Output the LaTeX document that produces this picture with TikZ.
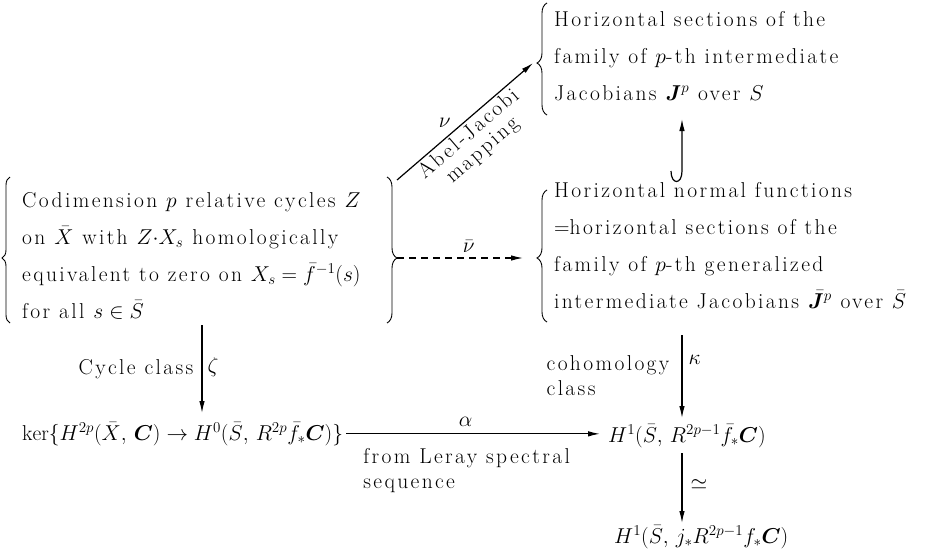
\RequirePackage{fix-cm}
\documentclass[tikz,border=0pt]{standalone}
\usepackage{amsmath}
\usepackage{bm}
\usepackage{fontspec}
\setmainfont{Latin Modern Roman}[LetterSpace=11]
\usetikzlibrary{arrows.meta,decorations.pathreplacing}
\tikzset{
  txt/.style={align=left, anchor=base west, inner sep=0pt},
  brc/.style 2 args={decorate, line width=0.9pt, decoration={brace, amplitude=#1, aspect=#2}},
  arr/.style={line width=1.2pt, -{Latex[length=12pt,width=5.5pt]}},
  lbl/.style={inner sep=0pt, font=\fontsize{21.5}{25}\selectfont}
}
\begin{document}
\begin{tikzpicture}[x=1pt,y=-1pt, font=\fontsize{21.5}{37}\selectfont]
\useasboundingbox (0,0) rectangle (926,557);
% text blocks (base anchor = baseline of last line)
\node[txt] (L) at (22,318) {Codimension $p$ relative cycles $Z$\\
  on $\bar X$ with $Z{\cdot}X_s$ homologically\\
  equivalent to zero on $X_s=\bar f^{-1}(s)$\\
  for all $s\in\bar S$};
\node[txt] (T) at (554,100) {Horizontal sections of the\\
  family of $p$-th intermediate\\
  Jacobians $\bm{J}^{p}$ over $S$};
\node[txt] (M) at (554,308) {Horizontal normal functions\\
  $=$horizontal sections of the\\
  family of $p$-th generalized\\
  intermediate Jacobians $\bar{\bm{J}}^{p}$ over $\bar S$};
\node[txt] (K) at (22,440) {$\ker\{H^{2p}(\bar X,\,\bm{C})\to H^{0}(\bar S,\,R^{2p}\bar f_{*}\bm{C})\}$};
\node[txt] (H1) at (608,442) {$H^{1}(\bar S,\,R^{2p-1}\bar f_{*}\bm{C})$};
\node[txt] (H2) at (614,543) {$H^{1}(\bar S,\,j_{*}R^{2p-1}f_{*}\bm{C})$};
% braces
\coordinate (LLa) at (10,323); \coordinate (LLb) at (10,177);
\coordinate (LRa) at (387,177); \coordinate (LRb) at (387,323);
\coordinate (TBa) at (547,115); \coordinate (TBb) at (547,3);
\coordinate (MBa) at (547,322); \coordinate (MBb) at (547,190);
\draw[brc={8pt}{0.445}] (LLa) -- (LLb);
\draw[brc={10pt}{0.555}] (LRa) -- (LRb);
\draw[brc={10pt}{0.464}] (TBa) -- (TBb);
\draw[brc={10pt}{0.485}] (MBa) -- (MBb);
% Abel-Jacobi arrow
\coordinate (ajs) at (397,180); \coordinate (aje) at (533,63);
\draw[arr] (ajs) -- node[pos=0.42, above left=3pt, inner sep=0pt] (nu) {$\nu$}
  node[pos=0.47, sloped, below=2pt, align=center, lbl, font=\fontsize{21.5}{21}\selectfont] (aj) {Abel-Jacobi\\mapping} (aje);
% dashed arrow
\coordinate (ds) at (397,258); \coordinate (de) at (523,258);
\draw[arr, dash pattern=on 7pt off 5pt] (ds) -- node[pos=0.57, above=5pt, inner sep=0pt] (nub) {$\bar\nu$} (de);
% hook arrow
\coordinate (hk1) at (671,171); \coordinate (hk2) at (682,171); \coordinate (hkt) at (682,119);
\draw[arr] (hk1) .. controls (671,185) and (682,185) .. (hk2) -- (hkt);
% cycle class arrow
\coordinate (zs) at (202,325); \coordinate (ze) at (202,413);
\draw[arr] (zs) -- node[pos=0.5, left=8pt, lbl] (cc) {Cycle class}
  node[pos=0.48, right=5pt, lbl] (zeta) {$\zeta$} (ze);
% alpha arrow
\draw[arr] ([xshift=3pt]K.east) -- node[pos=0.47, above=7pt, lbl] (alpha) {$\alpha$}
  node[pos=0.065, below=14pt, anchor=north west, align=left, lbl] (leray) {from Leray spectral\\sequence}
  ([xshift=-8pt]H1.west |- K.east);
% kappa arrow
\coordinate (ks) at (682,335); \coordinate (ke) at (682,418);
\draw[arr] (ks) -- node[pos=0.49, left=12pt, align=left, lbl] (coh) {cohomology\\class}
  node[pos=0.3, right=6pt, lbl] (kappa) {$\kappa$} (ke);
% simeq arrow
\coordinate (ss) at (682,453); \coordinate (se) at (682,523);
\draw[arr] (ss) -- node[pos=0.45, right=8pt, lbl] (iso) {$\simeq$} (se);
\end{tikzpicture}
\end{document}
